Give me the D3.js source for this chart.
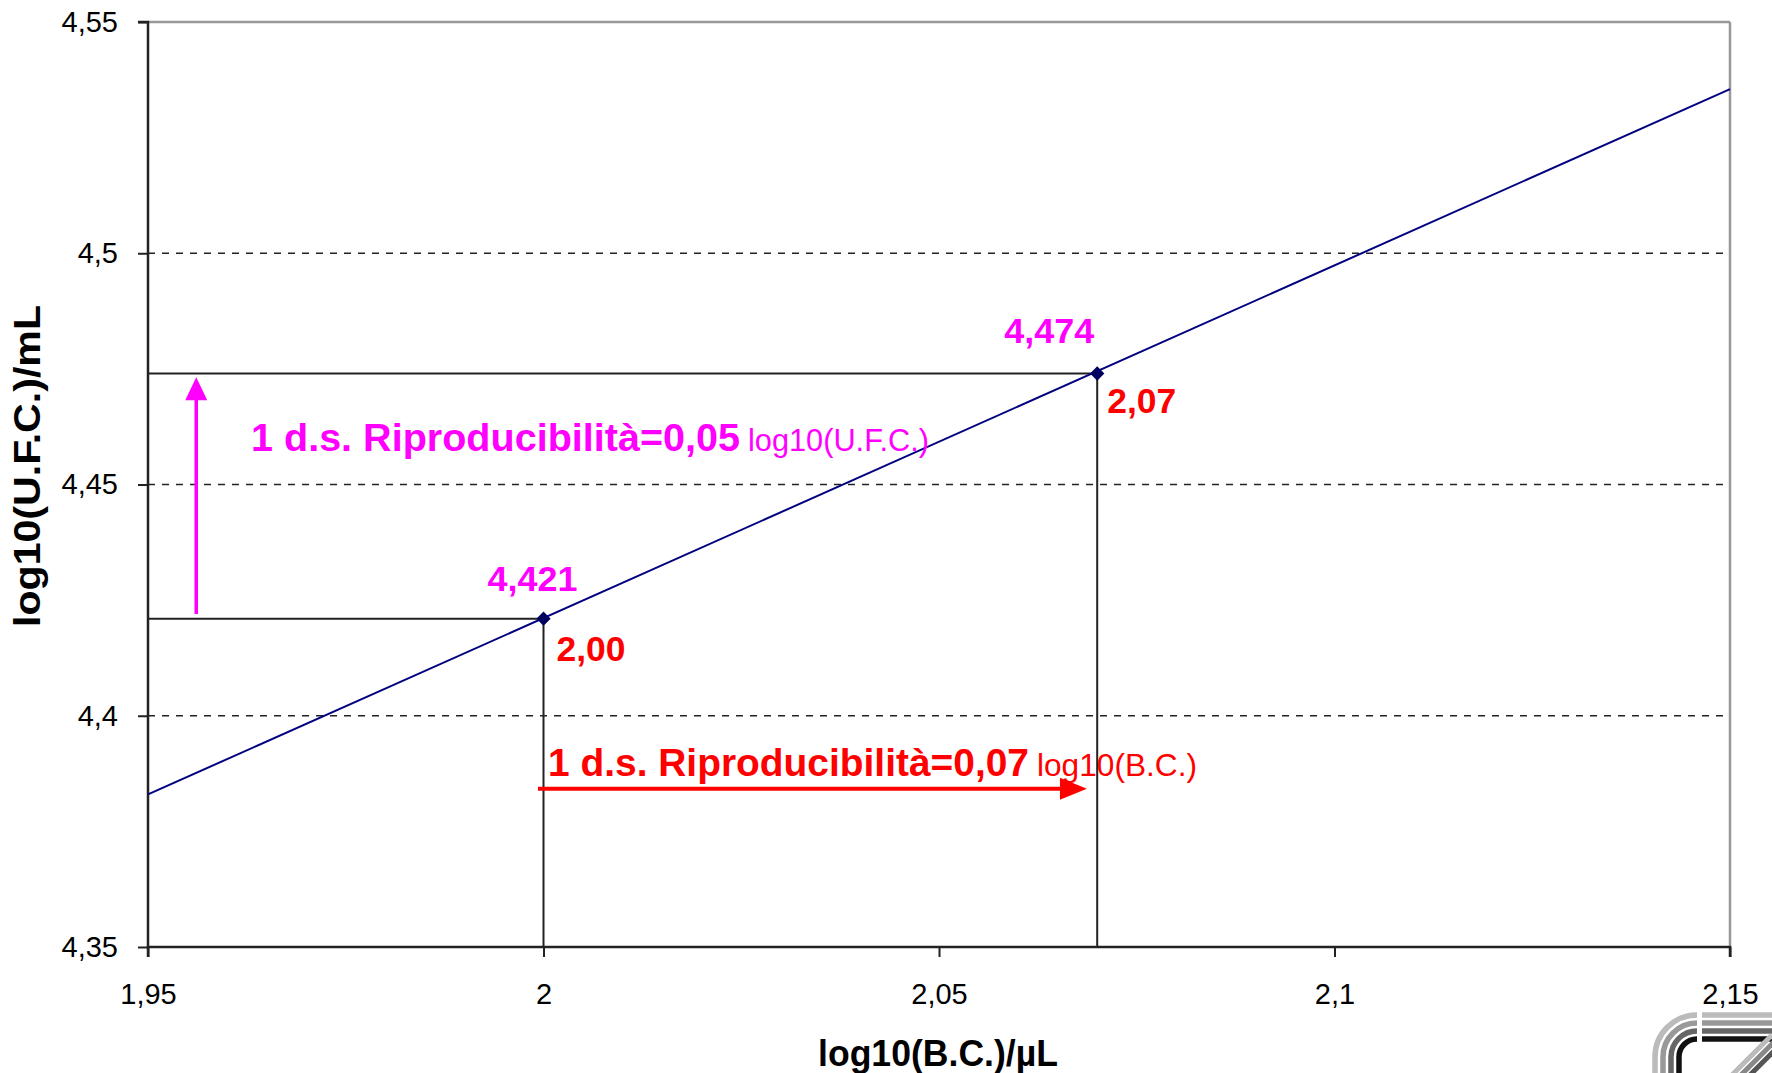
<!DOCTYPE html>
<html><head><meta charset="utf-8">
<script src="https://cdn.jsdelivr.net/npm/d3@7"></script>
<style>
html,body{margin:0;padding:0;background:#fff;}
svg text{font-family:"Liberation Sans",Arial,sans-serif;}
</style></head>
<body>
<svg id="chart" width="1772" height="1073"></svg>
<script>
// ---- data ----
const xTicks = [1.95, 2.0, 2.05, 2.1, 2.15];
const yTicks = [4.35, 4.4, 4.45, 4.5, 4.55];
const gridY = [4.4, 4.45, 4.5];
const lineX = [1.95, 2.15];           // trend line ends
const lineY = [4.383, 4.5355];
const pointX = [2.00, 2.07];          // marked points
const pointY = [4.421, 4.474];
const pointYLabels = ["4,421", "4,474"];
const pointXLabels = ["2,00", "2,07"];
const arrowUFC = {x: 1.9561, y0: 4.422, y1: 4.4732};   // magenta vertical arrow
const arrowBC = {y: 4.3842, x0: 1.9993, x1: 2.0687};    // red horizontal arrow
const annUFC = ["1 d.s. Riproducibilità=0,05", "log10(U.F.C.)"];
const annBC = ["1 d.s. Riproducibilità=0,07", "log10(B.C.)"];
const xTitle = "log10(B.C.)/µL";
const yTitle = "log10(U.F.C.)/mL";

const W = 1772, H = 1073;
const m = {left: 148, right: 42, top: 22, bottom: 126};
const svg = d3.select("#chart");
const x = d3.scaleLinear().domain([1.95, 2.15]).range([m.left, W - m.right]);
const y = d3.scaleLinear().domain([4.35, 4.55]).range([H - m.bottom, m.top]);
const fmt = d => String(+d.toFixed(2)).replace(".", ",");

// plot frame (top/right gray)
svg.append("line").attr("x1", x(1.95)).attr("x2", x(2.15)).attr("y1", y(4.55)).attr("y2", y(4.55))
  .attr("stroke", "#999").attr("stroke-width", 2.5);
svg.append("line").attr("x1", x(2.15)).attr("x2", x(2.15)).attr("y1", y(4.55)).attr("y2", y(4.35))
  .attr("stroke", "#999").attr("stroke-width", 2.5);

// gridlines
svg.append("g").selectAll("line").data(gridY).join("line")
  .attr("x1", x(1.95)).attr("x2", x(2.15)).attr("y1", d => y(d)).attr("y2", d => y(d))
  .attr("stroke", "#222").attr("stroke-width", 1.6).attr("stroke-dasharray", "7,7");

// axes
const yAxis = svg.append("g").attr("transform", `translate(${m.left},0)`)
  .call(d3.axisLeft(y).tickValues(yTicks).tickFormat(fmt).tickSize(10).tickPadding(20));
const xAxis = svg.append("g").attr("transform", `translate(0,${H - m.bottom})`)
  .call(d3.axisBottom(x).tickValues(xTicks).tickFormat(fmt).tickSize(10).tickPadding(26));
[yAxis, xAxis].forEach(g => {
  g.attr("font-size", 29);
  g.select(".domain").attr("stroke", "#222").attr("stroke-width", 2.5);
  g.selectAll(".tick line").attr("stroke", "#222").attr("stroke-width", 2);
  g.selectAll(".tick text").attr("font-size", 29).attr("fill", "#000")
    .style("font-family", "'Liberation Sans',Arial,sans-serif");
});
yAxis.select(".domain").attr("d", `M-10,${y(4.55)}H0V${y(4.35)}`);
xAxis.select(".domain").attr("d", `M${x(1.95)},10V0H${x(2.15)}V10`);

// guide lines from points to axes
const guides = svg.append("g");
pointX.forEach((px, i) => {
  guides.append("path")
    .attr("d", `M${x(1.95)},${y(pointY[i])}H${x(px)}V${y(4.35)}`)
    .attr("fill", "none").attr("stroke", "#222").attr("stroke-width", 2);
});

// trend line
svg.append("path")
  .datum(lineX.map((v, i) => [v, lineY[i]]))
  .attr("d", d3.line().x(d => x(d[0])).y(d => y(d[1])))
  .attr("fill", "none").attr("stroke", "#000080").attr("stroke-width", 2);

// points
svg.append("g").selectAll("path").data(pointX).join("path")
  .attr("d", d3.symbol(d3.symbolDiamond2, 130))
  .attr("transform", (d, i) => `translate(${x(d)},${y(pointY[i])})`)
  .attr("fill", "#000060");

// point labels
const yLabOff = [[-56, -28], [-93, -31]];
const xLabOff = [[13, 42], [10, 39]];
svg.append("g").selectAll("text").data(pointYLabels).join("text")
  .attr("x", (d, i) => x(pointX[i]) + yLabOff[i][0]).attr("y", (d, i) => y(pointY[i]) + yLabOff[i][1])
  .attr("fill", "#ff00ff").attr("font-size", 35).attr("font-weight", "bold")
  .attr("textLength", 90).attr("lengthAdjust", "spacingAndGlyphs").text(d => d);
svg.append("g").selectAll("text").data(pointXLabels).join("text")
  .attr("x", (d, i) => x(pointX[i]) + xLabOff[i][0]).attr("y", (d, i) => y(pointY[i]) + xLabOff[i][1])
  .attr("fill", "#ff0000").attr("font-size", 35).attr("font-weight", "bold")
  .attr("textLength", 69).attr("lengthAdjust", "spacingAndGlyphs").text(d => d);

// magenta arrow (vertical)
{
  const ax = x(arrowUFC.x), yb = y(arrowUFC.y0), yt = y(arrowUFC.y1);
  svg.append("line").attr("x1", ax).attr("x2", ax).attr("y1", yb).attr("y2", yt + 20)
    .attr("stroke", "#ff00ff").attr("stroke-width", 3.5);
  svg.append("path").attr("d", `M${ax},${yt}L${ax - 11},${yt + 23}L${ax + 11},${yt + 23}Z`).attr("fill", "#ff00ff");
  svg.append("text").attr("x", 251).attr("y", 451).attr("fill", "#ff00ff")
    .attr("font-size", 39).attr("font-weight", "bold")
    .attr("textLength", 489).attr("lengthAdjust", "spacingAndGlyphs").text(annUFC[0]);
  svg.append("text").attr("x", 748).attr("y", 451).attr("fill", "#ff00ff")
    .attr("font-size", 31)
    .attr("textLength", 181).attr("lengthAdjust", "spacingAndGlyphs").text(annUFC[1]);
}
// red arrow (horizontal)
{
  const ay = y(arrowBC.y), xl = x(arrowBC.x0), xr = x(arrowBC.x1);
  svg.append("line").attr("x1", xl).attr("x2", xr - 24).attr("y1", ay).attr("y2", ay)
    .attr("stroke", "#ff0000").attr("stroke-width", 4);
  svg.append("path").attr("d", `M${xr},${ay}L${xr - 27},${ay - 11}L${xr - 27},${ay + 11}Z`).attr("fill", "#ff0000");
  svg.append("text").attr("x", 548).attr("y", 776).attr("fill", "#ff0000")
    .attr("font-size", 39).attr("font-weight", "bold")
    .attr("textLength", 481).attr("lengthAdjust", "spacingAndGlyphs").text(annBC[0]);
  svg.append("text").attr("x", 1037).attr("y", 776).attr("fill", "#ff0000")
    .attr("font-size", 31)
    .attr("textLength", 160).attr("lengthAdjust", "spacingAndGlyphs").text(annBC[1]);
}

// axis titles
svg.append("text").attr("x", 938).attr("y", 1066).attr("text-anchor", "middle")
  .attr("font-size", 36).attr("font-weight", "bold")
  .attr("textLength", 240).attr("lengthAdjust", "spacingAndGlyphs").text(xTitle);
svg.append("text").attr("transform", "translate(40,466) rotate(-90)").attr("text-anchor", "middle")
  .attr("font-size", 36).attr("font-weight", "bold")
  .attr("textLength", 322).attr("lengthAdjust", "spacingAndGlyphs").text(yTitle);

// logo (decorative, bottom-right)
{
  const g = svg.append("g");
  const cx = 1697, cy = 1057;
  const cols = ["#bbb", "#999", "#666", "#111"];
  const radii = [42, 34, 26, 18];
  radii.forEach((r, i) => {
    g.append("path").attr("d", `M${cx - r},${H}V${cy}A${r},${r} 0 0 1 ${cx},${cy - r}`)
      .attr("fill", "none").attr("stroke", cols[i]).attr("stroke-width", 5.5);
    g.append("line").attr("x1", cx + 5).attr("x2", W).attr("y1", cy - r).attr("y2", cy - r)
      .attr("stroke", cols[i]).attr("stroke-width", 5.5);
  });
  [["#bbb", 0], ["#888", 9], ["#555", 18]].forEach(([c, o]) => {
    g.append("line").attr("x1", 1732 + o).attr("y1", H + 2).attr("x2", 1772 + o).attr("y2", H - 38)
      .attr("stroke", c).attr("stroke-width", 5);
  });
}
</script>
</body></html>
